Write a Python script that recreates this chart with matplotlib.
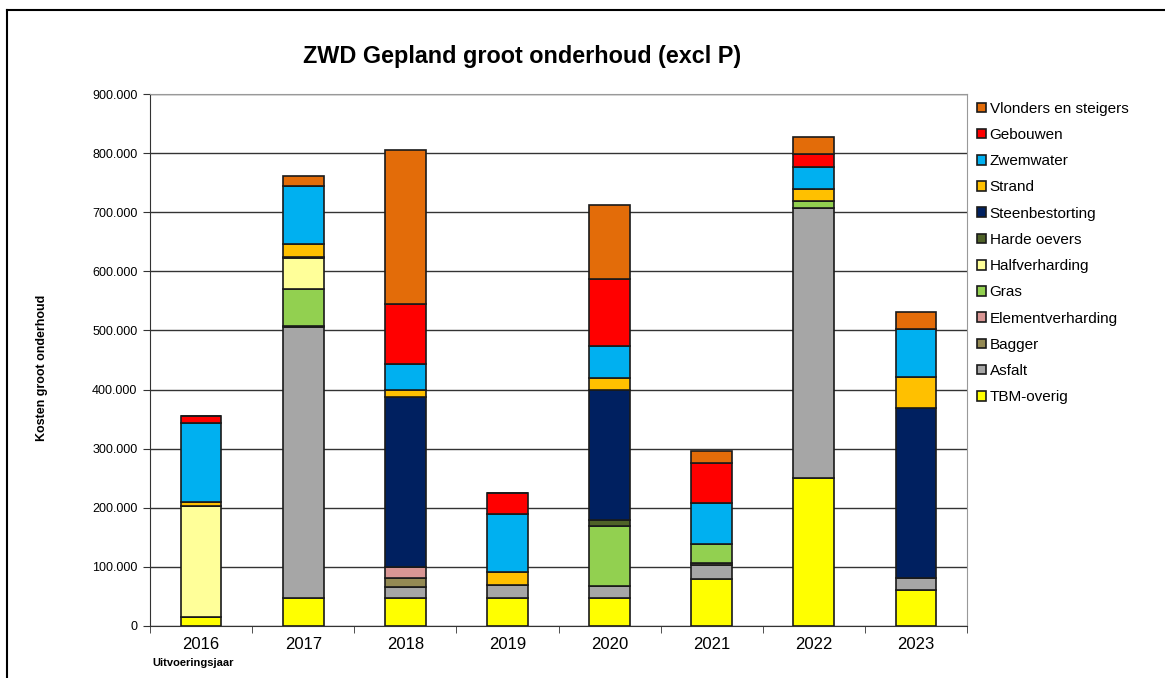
import numpy as np
import matplotlib.pyplot as plt
from matplotlib.lines import Line2D

plt.rcParams['font.family'] = ['Liberation Sans', 'DejaVu Sans']

jaren = ['2016', '2017', '2018', '2019', '2020', '2021', '2022', '2023']

# stacking order from bottom to top
categorie = ['TBM-overig', 'Asfalt', 'Bagger', 'Elementverharding', 'Gras',
             'Halfverharding', 'Harde oevers', 'Steenbestorting', 'Strand',
             'Zwemwater', 'Gebouwen', 'Vlonders en steigers']
kleuren = ['#FFFF00', '#A6A6A6', '#948A54', '#D99694', '#92D050',
           '#FFFF99', '#4F6228', '#002060', '#FFC000',
           '#00B0F0', '#FF0000', '#E36C09']

tbm_overig      = [15000, 47000, 47000, 47000, 47000, 79000, 250000, 61000]
asfalt          = [0, 458000, 19500, 22000, 21000, 24000, 456500, 20000]
bagger          = [0, 2500, 15300, 0, 0, 4000, 0, 0]
elementverh     = [0, 0, 18200, 0, 0, 0, 0, 0]
gras            = [0, 62000, 0, 0, 102000, 32000, 12500, 0]
halfverharding  = [188000, 53000, 0, 0, 0, 0, 0, 0]
harde_oevers    = [0, 2500, 0, 0, 9000, 0, 0, 0]
steenbestorting = [0, 0, 287000, 0, 220000, 0, 0, 287000]
strand          = [7000, 21000, 13000, 22000, 20500, 0, 21000, 53000]
zwemwater       = [134000, 98000, 44000, 98500, 53500, 69500, 37000, 81000]
gebouwen        = [12000, 0, 100000, 35000, 113500, 67500, 21500, 0]
vlonders        = [0, 18000, 262000, 0, 126000, 20500, 28000, 29000]

reeksen = [tbm_overig, asfalt, bagger, elementverh, gras, halfverharding,
           harde_oevers, steenbestorting, strand, zwemwater, gebouwen, vlonders]

fig = plt.figure(figsize=(11.65, 6.78), dpi=100)
ax = fig.add_axes([150/1165, 52/678, 817/1165, 532/678])

x = np.arange(len(jaren))
bodem = np.zeros(len(jaren))
for naam, kleur, waarden in zip(categorie, kleuren, reeksen):
    w = np.array(waarden, dtype=float)
    ax.bar(x, w, bottom=bodem, width=0.4, color=kleur, edgecolor='#1a1a1a',
           linewidth=1.2, label=naam, zorder=3)
    bodem += w

ax.set_xlim(-0.5, 7.5)
ax.set_ylim(0, 900000)
ax.set_yticks(np.arange(0, 900001, 100000))
ax.set_yticklabels(['0'] + ['{:,}'.format(v).replace(',', '.') for v in range(100000, 900001, 100000)],
                   fontsize=9)
ax.yaxis.grid(True, color='#333333', linewidth=1.0, zorder=0)
ax.set_xticks(x)
ax.set_xticklabels(jaren, fontsize=12)
ax.set_xticks(np.arange(-0.5, 8, 1), minor=True)
ax.tick_params(axis='x', which='major', length=0, pad=8)
ax.tick_params(axis='x', which='minor', length=5, direction='out', color='#333333')
ax.tick_params(axis='y', length=5, direction='out', color='#333333', pad=4)

ax.spines['left'].set_color('#333333')
ax.spines['bottom'].set_color('#333333')
ax.spines['top'].set_color('#999999')
ax.spines['right'].set_color('#999999')

fig.text(522/1165, 1 - 56/678, 'ZWD Gepland groot onderhoud (excl P)', ha='center', va='center',
         fontsize=16.8, fontweight='bold')
fig.text(42/1165, 1 - 368/678, 'Kosten groot onderhoud', rotation=90, ha='center', va='center',
         fontsize=9, fontweight='bold')
fig.text(152/1165, 1 - 663/678, 'Uitvoeringsjaar', ha='left', va='center',
         fontsize=8, fontweight='bold')

handles, labels = ax.get_legend_handles_labels()
leg = fig.legend(handles[::-1], labels[::-1], loc='upper left', bbox_to_anchor=(963/1165, 1 - 88/678),
                 frameon=False, fontsize=11, handlelength=0.6, handleheight=0.6,
                 handletextpad=0.25, labelspacing=0.8)

# outer frame of the chart object
fig.add_artist(Line2D([7/1165, 7/1165], [0, 1 - 10/678], color='black', linewidth=1.5))
fig.add_artist(Line2D([7/1165, 1], [1 - 10/678, 1 - 10/678], color='black', linewidth=1.5))

fig.savefig('out.png', dpi=100)
